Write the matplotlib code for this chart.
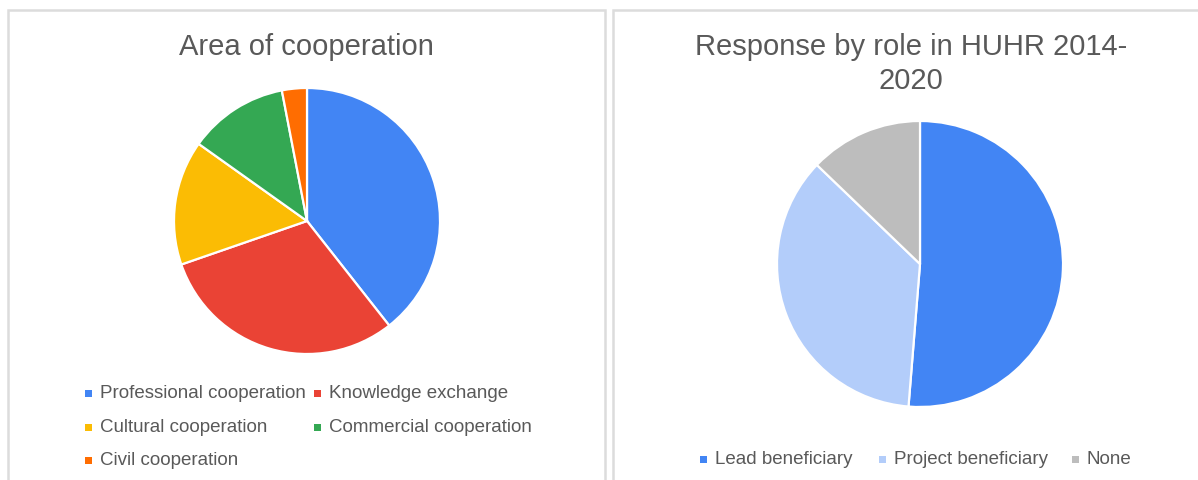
import matplotlib
matplotlib.use("Agg")
import matplotlib.pyplot as plt
from matplotlib.patches import Rectangle

plt.rcParams['font.family'] = ['Liberation Sans', 'DejaVu Sans']

# ---- data ----
area_labels = ["Professional cooperation", "Knowledge exchange", "Cultural cooperation",
               "Commercial cooperation", "Civil cooperation"]
area_values = [13, 10, 5, 4, 1]
area_colors = ["#4285F4", "#EA4335", "#FBBC04", "#34A853", "#FF6D01"]

role_labels = ["Lead beneficiary", "Project beneficiary", "None"]
role_values = [20, 14, 5]
role_colors = ["#4285F4", "#B3CDFA", "#BDBDBD"]

title_left = "Area of cooperation"
title_right = "Response by role in HUHR 2014-\n2020"

W, H = 1198, 481
fig = plt.figure(figsize=(W / 100, H / 100), dpi=100)
fig.patch.set_facecolor("white")

def fx(px):
    return px / W

def fy(py):
    return 1 - py / H

text_col = "#595959"

# panel borders
border = "#DCDCDC"
bax = fig.add_axes([0, 0, 1, 1])
bax.set_xlim(0, W)
bax.set_ylim(H, 0)
bax.axis("off")
bax.plot([8, 8, 605, 605], [490, 11, 11, 490], color=border, lw=1.8, solid_joinstyle="miter")
bax.plot([613, 613, 1205], [490, 11, 11], color=border, lw=1.8, solid_joinstyle="miter")

def pie_axes(cx, cy, r):
    ax = fig.add_axes([fx(cx - r), fy(cy + r), 2 * r / W, 2 * r / H])
    ax.set_xlim(-1, 1)
    ax.set_ylim(-1, 1)
    ax.axis("off")
    return ax

# left pie
ax1 = pie_axes(307, 222, 133)
ax1.pie(area_values, colors=area_colors, startangle=90, counterclock=False,
        radius=1, wedgeprops=dict(edgecolor="white", linewidth=1.6))
ax1.set_xlim(-1, 1)
ax1.set_ylim(-1, 1)

# right pie
ax2 = pie_axes(920, 265, 143)
ax2.pie(role_values, colors=role_colors, startangle=90, counterclock=False,
        radius=1, wedgeprops=dict(edgecolor="white", linewidth=1.6))
ax2.set_xlim(-1, 1)
ax2.set_ylim(-1, 1)

# titles
tfs = 21
bax.text(306, 55, title_left, ha="center", va="baseline", fontsize=tfs, color=text_col)
bax.text(911, 55, title_right.split("\n")[0], ha="center", va="baseline", fontsize=tfs, color=text_col)
bax.text(911, 89, title_right.split("\n")[1], ha="center", va="baseline", fontsize=tfs, color=text_col)

# legends (manual layout)
leg_fs = 13.5
def legend_item(x, y, label, color):
    bax.add_patch(Rectangle((x - 3.5, y - 3.5), 7, 7, facecolor=color, edgecolor="none"))
    bax.text(x + 12, y, label, ha="left", va="center", fontsize=leg_fs, color=text_col)

left_pos = [(88, 394), (317, 394), (88, 428), (317, 428), (88, 461)]
for (x, y), lab, col in zip(left_pos, area_labels, area_colors):
    legend_item(x, y, lab, col)

right_pos = [(703, 460), (882, 460), (1075, 460)]
for (x, y), lab, col in zip(right_pos, role_labels, role_colors):
    legend_item(x, y, lab, col)

fig.savefig("out.png", dpi=100, facecolor="white")
